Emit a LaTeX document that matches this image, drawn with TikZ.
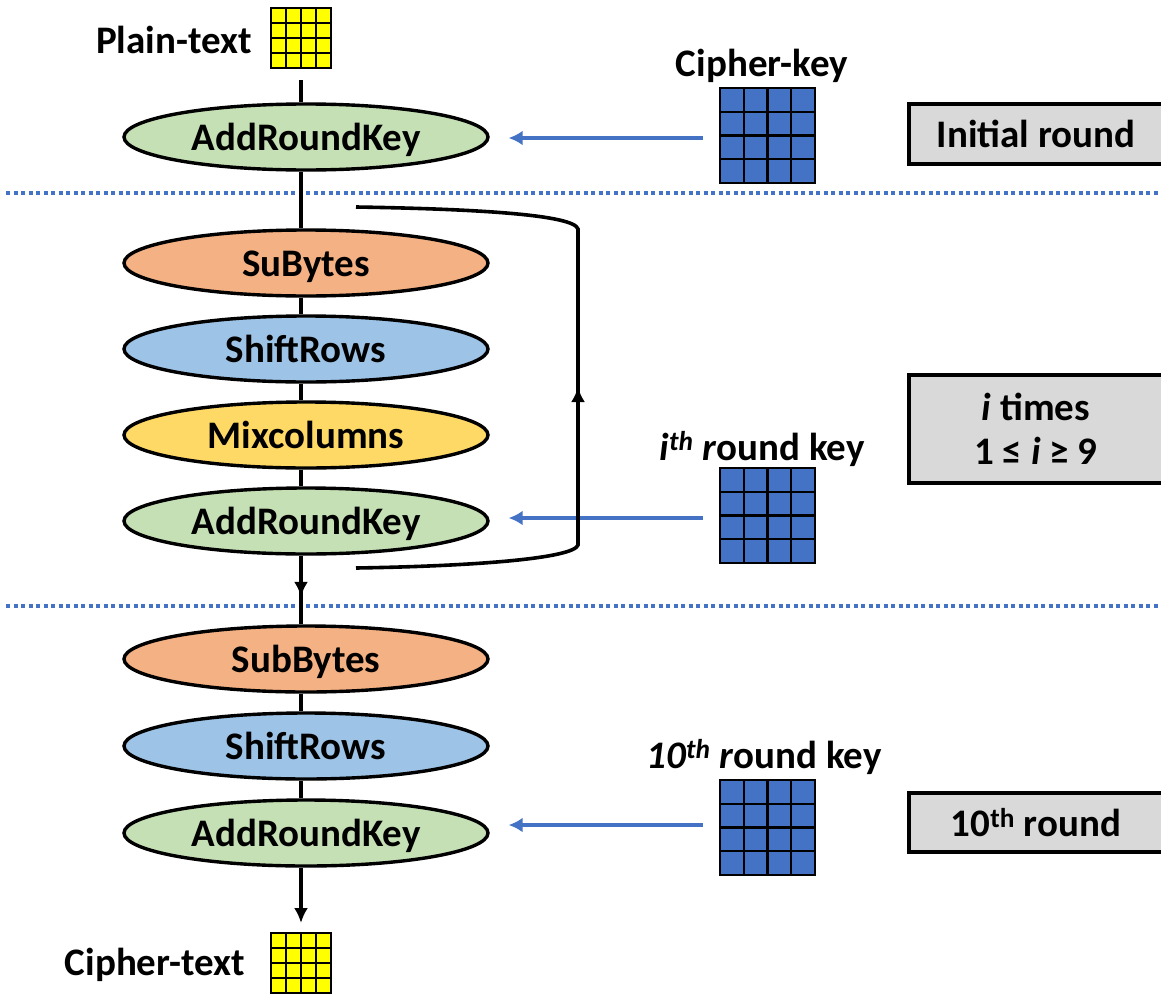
\documentclass[tikz,border=0pt]{standalone}
\usepackage{fontspec}
\setmainfont{Carlito}
\usetikzlibrary{shapes.geometric,arrows.meta,calc,decorations.markings}

\definecolor{keyblue}{HTML}{4472C4}
\definecolor{cellyellow}{HTML}{FFFF00}
\definecolor{addgreen}{HTML}{C5E0B4}
\definecolor{subcolor}{HTML}{F4B183}
\definecolor{shiftcolor}{HTML}{9DC3E6}
\definecolor{mixcolor}{HTML}{FFD966}
\definecolor{roundgray}{HTML}{D9D9D9}

\tikzset{
  bigfont/.style={font=\fontsize{39}{44}\selectfont\bfseries},
  stage/.style={ellipse, draw=black, line width=3.4pt, minimum width=364pt,
    minimum height=66pt, inner sep=0pt, bigfont, text depth=4pt, text height=31pt},
  cellgrid/.style={rectangle, draw=black, line width=2.2pt, fill=#1,
    inner sep=0pt, outer sep=0pt,
    path picture={
      \foreach \k in {1,2,3}{
        \draw[line width=2.4pt]
          ($(path picture bounding box.north west)!\k/4!(path picture bounding box.north east)$) --
          ($(path picture bounding box.south west)!\k/4!(path picture bounding box.south east)$);
        \draw[line width=2.4pt]
          ($(path picture bounding box.north west)!\k/4!(path picture bounding box.south west)$) --
          ($(path picture bounding box.north east)!\k/4!(path picture bounding box.south east)$);
      }}},
  lbl/.style={anchor=base, inner sep=0pt, bigfont},
  roundbox/.style={rectangle, draw=black, line width=3.2pt, fill=roundgray,
    minimum width=254pt, inner sep=0pt, align=center, bigfont},
  flow/.style={draw=black, line width=3.6pt},
  flowarrow/.style={flow, -{Latex[length=15pt,width=14pt]}},
  keyarrow/.style={draw=keyblue, line width=4pt, -{Latex[length=14pt,width=15pt]}},
  separator/.style={draw=keyblue, line width=4pt, dash pattern=on 4pt off 3.5pt},
  midarrowdown/.style={decoration={markings,
      mark=at position #1 with {\arrow{Latex[length=15pt,width=14pt]}}},
    postaction={decorate}},
}

\begin{document}
\begin{tikzpicture}[x=1pt,y=-1pt]
  \useasboundingbox (0,0) rectangle (1161,993);

  % round separators
  \draw[separator] (6,193) -- (1161,193);
  \draw[separator] (6,606) -- (1161,606);

  % state matrices and key matrices
  \node[cellgrid=cellyellow, minimum size=60pt] (pt) at (301,38) {};
  \node[cellgrid=keyblue, minimum size=95pt] (ck) at (767.5,135.5) {};
  \node[cellgrid=keyblue, minimum size=95pt] (ik) at (767.5,515.5) {};
  \node[cellgrid=keyblue, minimum size=95pt] (tk) at (767.5,827.5) {};
  \node[cellgrid=cellyellow, minimum size=60pt] (ct) at (301,963) {};

  % labels
  \node[lbl] (ptl) at (174,53) {Plain-text};
  \node[lbl] (ckl) at (762,76) {Cipher-key};
  \node[lbl] (ikl) at (762,460) {\textit{i\textsuperscript{th} r}ound key};
  \node[lbl] (tkl) at (764,768) {\textit{10\textsuperscript{th} r}ound key};
  \node[lbl] (ctl) at (155,975) {Cipher-text};

  % initial round
  \node[stage, fill=addgreen] (a0) at (306,137) {AddRoundKey};

  % main rounds
  \node[stage, fill=subcolor] (s1) at (306,263) {SuBytes};
  \node[stage, fill=shiftcolor] (r1) at (306,349) {ShiftRows};
  \node[stage, fill=mixcolor] (m1) at (306,435) {Mixcolumns};
  \node[stage, fill=addgreen] (a1) at (306,521) {AddRoundKey};

  % final round
  \node[stage, fill=subcolor] (s2) at (306,659) {SubBytes};
  \node[stage, fill=shiftcolor] (r2) at (306,746) {ShiftRows};
  \node[stage, fill=addgreen] (a2) at (306,833) {AddRoundKey};

  % round descriptions
  \node[roundbox, minimum height=60pt] (b0) at (1036,134) {Initial round};
  \node[roundbox, minimum height=108pt] (b1) at (1036,429)
    {\textit{i} times\\[0pt]1 ≤ \textit{i} ≥ 9};
  \node[roundbox, minimum height=59pt] (b2) at (1036,822.5) {10\textsuperscript{th} round};

  % data path
  \draw[flow, shorten <=12pt] (pt.south) -- (pt.south |- a0.north);
  \draw[flow] (pt |- a0.south) -- (pt |- s1.north);
  \draw[flow] (pt |- s1.south) -- (pt |- r1.north);
  \draw[flow] (pt |- r1.south) -- (pt |- m1.north);
  \draw[flow] (pt |- m1.south) -- (pt |- a1.north);
  \draw[flow, midarrowdown=0.6] (pt |- a1.south) -- (pt |- s2.north);
  \draw[flow] (pt |- s2.south) -- (pt |- r2.north);
  \draw[flow] (pt |- r2.south) -- (pt |- a2.north);
  \draw[flowarrow, shorten >=10pt] (ct |- a2.south) -- (ct.north);

  % round keys
  \draw[keyarrow, shorten <=17pt, shorten >=19pt] ([yshift=-2.5pt]ck.west) -- ([yshift=-2.5pt]ck.west -| a0.east);
  \draw[keyarrow, shorten <=17pt, shorten >=19pt] ([yshift=-2.5pt]ik.west) -- ([yshift=-2.5pt]ik.west -| a1.east);
  \draw[keyarrow, shorten <=17pt, shorten >=19pt] ([yshift=2.5pt]tk.west) -- ([yshift=2.5pt]tk.west -| a2.east);

  % loop back over the main rounds
  \coordinate (loopin) at (356,568);
  \coordinate (loopout) at (356,207);
  \coordinate (loopbr) at (578,545);
  \coordinate (looptr) at (578,229);
  \draw[flow] (loopin) .. controls (480,566) and (574,558) .. (loopbr)
    -- (looptr) .. controls (574,215) and (480,209) .. (loopout);
  \draw[flowarrow] (loopbr) -- ($(loopbr)!0.5!(looptr)$);
\end{tikzpicture}
\end{document}
